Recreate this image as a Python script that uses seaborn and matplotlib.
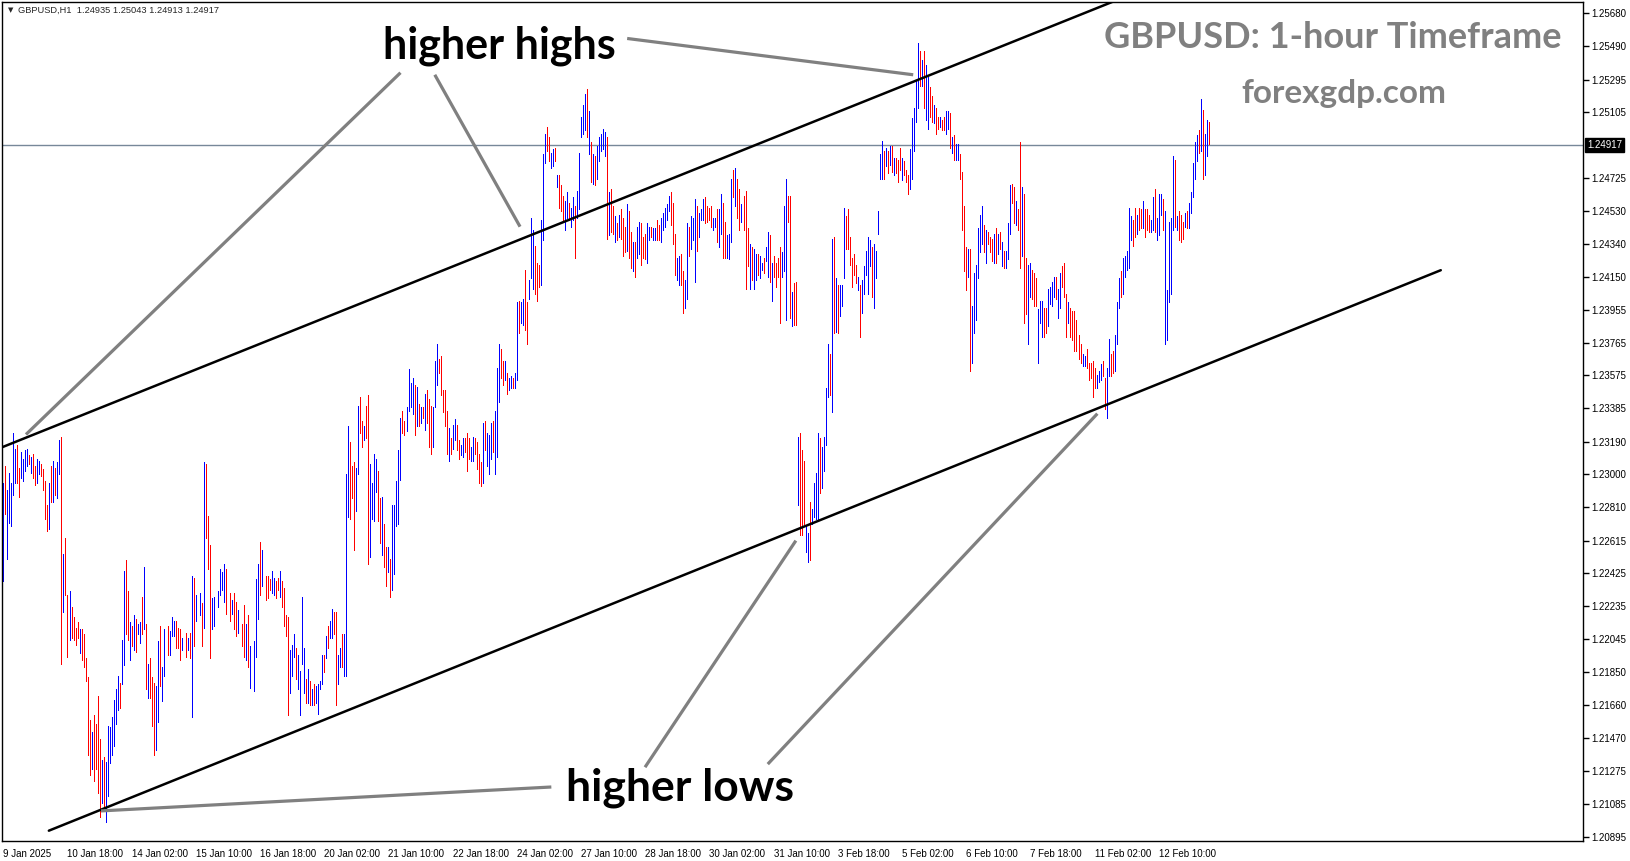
import numpy as np
import pandas as pd
import matplotlib
matplotlib.use("Agg")
import matplotlib.pyplot as plt
import matplotlib.transforms as mtransforms
import seaborn as sns

# GBPUSD H1 bars, prices in pips (1/10000); None = bar not read
high_pips = [
    12295,12305,12291,12301,12295,12324,12315,12317,12304,12313, 12309,12314,12315,12311,12310,12312,12305,12309,12308,12306,
    12303,12296,12282,12295,12305,12308,12304,12307,12320,12322, 12254,12263,12230,12232,12223,12217,12211,12214,12210,12210,
    12207,12193,12182,12157,12150,12160,12155,12171,12146,12134, 12136,12133,12154,12153,12159,12169,12175,12183,12179,12204,
    12244,12250,12232,12214,12212,12218,12216,12213,12214,12229, 12246,12213,12190,12193,12182,12179,12177,12203,12212,12188,
    12210,None,12212,12209,12217,12215,12215,12211,12210,12205,None,12208,
    12205,12208,12241,12240,12230,None,12231,12225,12307,12306,12276,
    12259,12228,12229,None,12232,12245,12243,12248,12245,None,12231,12227,
    12231,12226,12221,None,12213,12224,12213,12218,12200,None,12203,12239,
    12248,12261,12256,None,12241,12241,12239,12244,12240,12238,12240,
    12244,12238,12234,12218,12217,12198,12201,12207,12199,
    12195,12186,12229,12199,12181,12187,12180,12175,12178,12177, 12178,12180,12195,12195,12206,12212,12215,12222,12220,12220,
    12195,12199,12207,12207,12300,12328,12319,12305,12307,12304, 12340,12345,12331,12328,12340,12346,12306,12295,12312,12309,
    12302,12286,12287,12271,12258,12258,12251,12282,12282,12296, 12314,12333,12337,12331,12339,12361,12353,12356,12352,12351,
    12341,12339,12339,12347,12349,12344,12340,12339,12366,12376, 12367,12369,12349,12349,12337,12327,12321,12329,12332,12329,
    12320,12317,12321,12321,12324,12321,12316,12322,12321,12319, 12312,12307,12330,12331,12324,12323,12330,12331,12337,12362,
    12376,12373,12366,12366,12359,12356,12357,12356,12359,12400, 12401,12400,12402,12419,12400,12413,12449,12442,12433,12423,
    12422,12448,12486,12498,12502,12496,12487,12489,12490,12474, 12474,12468,12462,12459,12464,12458,12455,12461,12456,12465,
    12487,12508,12515,12521,12524,12511,12493,12486,12485,
    12491,12496,12498,12501,12499,12496,12464,12466,12456,12450, 12446,12451,12454,12449,12444,12457,12453,12441,12435,12435,
    12444,12447,12446,12438,12440,12446,12444,12444,12443,12443, 12448,12445,12449,12452,12455,12457,12462,12464,12458,12440,
    12426,12427,12428,12418,12413,12446,12444,12450,12449,12460, 12456,12452,12454,12460,12461,12456,12455,12456,12449,12449,
    12454,12454,12463,12458,12447,12439,12440,12472,12477,12478, 12472,12466,12457,12462,12465,12443,12434,12432,12431,12428,
    12428,12427,12423,12426,12432,12441,12439,12423,12427,12423, 12426,12432,12429,12456,12472,12462,12462,12406,12411,12412,
    12322,12324,12314,12308,12270,12266,12284,12280,12295,12301, 12324,12321,12316,12322,12350,12376,12370,12437,12438,12414,
    12410,12410,12410,12455,12450,12454,12438,12426,12428,12422, 12415,12410,12413,12421,12430,12438,12436,12432,12434,12430,
    12453,12486,12494,12488,12490,12488,12491,12491,12484,12484,
    12483,
    12490,12484,12482,12477,12474,12489,12507,12513,12529,12551, 12546,12541,12546,12538,12531,12525,12520,12515,12513,12508,
    12508,12506,12508,12511,12511,12510,12496,12497,12492,12492, 12486,12476,12456,12432,12431,12431,12398,12417,12422,12443,
    12451,12456,12445,12442,12441,12438,12437,12440,12443,12440, 12441,12435,12430,12430,12446,12468,12469,12467,12459,12454,
    12493,12467,12463,12426,12422,12423,12419,12417,12414,12396, 12401,12401,12397,12397,12408,12409,12412,12415,12415,12408,
    12417,12421,12423,12405,12400,12397,12395,12395,12390,12381, 12376,12370,12369,12373,12365,12365,12366,12362,12358,12360,
    12364,12366,12356,12362,12379,12370,12372,12381,12400,12414, 12418,12426,12427,12430,12455,12450,12448,12455,12451,12455,
    12454,12459,12454,12454,12451,12448,12461,12466,12449,12463, 12463,12460,12453,12407,12447,12449,12485,12483,12450,12453,
    12451,12447,12452,12453,12458,12464,12481,12493,12497,12500, 12518,12512,12498,12506,12505,
]
low_pips = [
    12238,12277,12251,12272,12270,12288,12295,12295,12287,12298, 12296,12302,12305,12306,12301,12298,12294,12295,12300,12299,
    12291,12274,12267,12268,12284,12284,12288,12286,12300,12190, 12220,12230,12194,12204,12205,12204,12201,12205,12196,12192,
    12188,12180,12137,12125,12129,12122,12129,12115,12101,12109, 12106,12098,12113,12132,12137,12142,12155,12163,12164,12178,
    12189,12207,12204,12192,12200,12198,12197,12207,12202,12207, 12210,12175,12170,12170,12154,12137,12140,12156,12177,12168,
    12183,None,12195,12195,12206,12206,12199,12199,12192,12198,None,12194,
    12198,12193,12159,12200,12215,None,12218,12200,12211,12263,12245,
    12193,12210,12212,None,12223,12230,12233,12226,12219,None,12215,12219,
    12210,12206,12208,None,12200,12194,12192,12188,12176,None,12174,12194,
    12216,12230,12235,None,12227,12228,12233,12231,12230,12228,12233,
    12229,12223,12212,12206,12160,12173,12183,12194,12181,
    12175,12160,12190,12173,12167,12167,12166,12166,12166,12167, 12161,12175,12178,12185,12193,12199,12205,12205,12207,12166,
    12178,12188,12188,12183,12183,12275,12274,12286,12256,12279, 12300,12324,12316,12320,12321,12248,12252,12274,12273,12290,
    12273,12260,12253,12246,12235,12243,12229,12233,12242,12270, 12271,12297,12324,12323,12325,12337,12339,12335,12323,12328,
    12328,12330,12333,12326,12330,12316,12312,12316,12339,12352, 12359,12346,12336,12328,12312,12308,12312,12315,12320,12314,
    12309,12311,12310,12313,12302,12309,12308,12308,12312,12303, 12295,12293,12295,12314,12305,12300,12309,12313,12300,12310,
    12342,12356,12352,12355,12347,12349,12350,12350,12350,12355, 12382,12388,12387,12384,12376,12402,12414,12408,12405,12401,
    12409,12410,12436,12481,12488,12482,12478,12479,12482,12467, 12455,12453,12447,12442,12449,12448,12444,12448,12426,12449,
    12454,12496,12498,12500,12496,12486,12470,12469,12468,
    12472,12482,12488,12489,12485,12437,12439,12441,12440,12435, 12436,12438,12437,12427,12429,12430,12426,12420,12418,12415,
    12426,12428,12422,12426,12425,12423,12436,12438,12436,12436, 12436,12436,12435,12442,12444,12448,12453,12445,12434,12416,
    12413,12410,12410,12394,12397,12402,12427,12431,12436,12412, 12430,12438,12448,12448,12446,12447,12448,12444,12442,12444,
    12435,12432,12440,12426,12426,12426,12425,12435,12461,12456, 12449,12442,12447,12442,12408,12421,12408,12413,12408,12413,
    12416,12414,12419,12417,12424,12415,12412,12401,12415,12409, 12415,12388,12415,12418,12390,12447,12391,12386,12387,12387,
    12282,12265,12265,12271,12255,12249,12250,12271,12275,12274, 12274,12289,12292,12302,12317,12345,12346,12336,12382,12383,
    12382,12392,12398,12414,12431,12431,12422,12409,12416,12411, 12407,12380,12394,12405,12416,12405,12421,12403,12397,12414,
    12440,12472,12472,12472,12479,12475,12480,12476,12474,12475,
    12470,
    12477,12471,12474,12470,12463,12466,12472,12488,12505,12513, 12526,12526,12513,12506,12501,12508,12505,12504,12498,12501,
    12502,12500,12500,12498,12501,12490,12487,12483,12483,12483, 12472,12442,12418,12407,12415,12360,12365,12382,12390,12414,
    12429,12434,12429,12423,12434,12429,12424,12423,12423,12428, 12431,12421,12420,12420,12425,12440,12458,12446,12445,12442,
    12420,12427,12388,12393,12376,12403,12402,12398,12398,12365, 12388,12380,12380,12382,12386,12399,12398,12403,12402,12391,
    12397,12409,12403,12380,12388,12380,12378,12372,12372,12367, 12365,12363,12363,12362,12355,12356,12345,12350,12350,12354,
    12355,12357,12338,12333,12357,12357,12359,12360,12376,12397, 12403,12405,12415,12419,12420,12436,12433,12438,12440,12442,
    12443,12443,12438,12442,12441,12441,12442,12441,12436,12439, 12451,12442,12376,12378,12400,12405,12442,12444,12442,12436,
    12435,12437,12444,12443,12443,12452,12461,12472,12482,12487, 12488,12472,12474,12485,12492,
]
# B = bullish bar (blue), R = bearish bar (red), - = not read
bar_dirs = (
    "BRBBBBBRRBBBBRBRRBBRRRRBRBRBBR" "BRRBRRRRBRRRRRBRRRRBRBBBBBBBRB" "BRRBRBRBBRBRBRRRBBRB"
    "B-RBBBRRRB-R" "BRBRB-BRBRR" "RBB-BBBBR-RB" "RRB-RRBRB-BB" "BRB-RRRBBRR" "BRRRRBBBR"
    "BBBBRBRBRBBBBRBRBBRRBBRBBBRRRB" "BRRBRRBBBBRRBRRBRBBBBBRRBBBBRB" "RBRBRRRBBBRRRRRBRBBRRBBRRRBBRR"
    "RRBRBBBRBBBRRBRBBRBBRBBRRBBBRR" "RBBBRRBBRBRRRBBRBBRBBBBBRBRBR"
    "BBBBBRBRRBRBRRRBRRBRBBRRRBBRBB" "RRBBBBBRRRBBRRBBRBBBRBBBRRRRBB" "RBBRRBBBRBRRBRRRBRBBRBBRBBRBRR"
    "RRBBBRRBRRBRRRBBRBBBBRBBBBRBRB" "RBBBRRRRRRBRBBBBBRBBBBBRBRBRBR"
    "R"
    "RBRRRBBBBBRBRBBRRBRRBRRBBRBRBB" "RRRRBRBBBBBBRBRRRBRBRBRBBBRRBR" "RBRRBBRRRBBBRRBBBBRBBRRRBRRRRR"
    "RBBRRRRRBBBRRBBRRBBBRBBBBBRRBR" "RBRRRBBRBBBRBBBBBRBRRRBRBBBBBR" "BRBBR"
)

# axis text
price_ticks = [1.25680, 1.25490, 1.25295, 1.25105, 1.24725, 1.24530, 1.24340, 1.24150,
               1.23955, 1.23765, 1.23575, 1.23385, 1.23190, 1.23000, 1.22810, 1.22615,
               1.22425, 1.22235, 1.22045, 1.21850, 1.21660, 1.21470, 1.21275, 1.21085, 1.20895]
time_labels = ["9 Jan 2025", "10 Jan 18:00", "14 Jan 02:00", "15 Jan 10:00", "16 Jan 18:00",
               "20 Jan 02:00", "21 Jan 10:00", "22 Jan 18:00", "24 Jan 02:00", "27 Jan 10:00",
               "28 Jan 18:00", "30 Jan 02:00", "31 Jan 10:00", "3 Feb 18:00", "5 Feb 02:00",
               "6 Feb 10:00", "7 Feb 18:00", "11 Feb 02:00", "12 Feb 10:00"]
bars_per_label = 32
last_price = 1.24917
header = "GBPUSD,H1  1.24935 1.25043 1.24913 1.24917"

# channel lines and pointer lines, (bar, price) anchors
upper_channel = [(-1.65, 1.23153), (560, 1.25780)]
lower_channel = [(22.7, 1.20929), (716.6, 1.24187)]
pointers = [
    [(198.0, 1.25335), (11.3, 1.23232)],
    [(215.1, 1.25323), (257.6, 1.24440)],
    [(311.0, 1.25534), (453.6, 1.25323)],
    [(273.2, 1.21183), (48.7, 1.21044)],
    [(319.9, 1.21298), (395.1, 1.22615)],
    [(381.1, 1.21316), (545.4, 1.23353)],
]

bars = pd.DataFrame({
    "bar": np.arange(len(high_pips)),
    "high": np.array(high_pips, dtype=float) / 10000,
    "low": np.array(low_pips, dtype=float) / 10000,
    "dir": list(bar_dirs),
}).dropna()
long_df = bars.melt(id_vars=["bar", "dir"], value_vars=["high", "low"], value_name="price")

sns.set_style("white")
plt.rcParams["font.family"] = ["Liberation Sans", "DejaVu Sans"]

W, H = 1631, 861
fig = plt.figure(figsize=(W / 100, H / 100), dpi=100)
left, right, top, bottom = 2, 1583, 2, 840.5
ax = fig.add_axes([left / W, 1 - bottom / H, (right - left) / W, (bottom - top) / H])

sns.lineplot(data=long_df, x="bar", y="price", units="bar", estimator=None, errorbar=None,
             hue="dir", palette={"B": "#0000ff", "R": "#ff0000"}, sort=False,
             linewidth=0.72, legend=False, ax=ax, antialiased=False)

ax.set_xlim(-0.65, 787.5)
ax.set_ylim(1.20872, 1.25746)

ax.axhline(last_price, color="#778899", lw=1, zorder=1)

for (x0, y0), (x1, y1) in [upper_channel, lower_channel]:
    ax.plot([x0, x1], [y0, y1], color="black", lw=1.8, zorder=4)
for (x0, y0), (x1, y1) in pointers:
    ax.plot([x0, x1], [y0, y1], color="#808080", lw=2.3, zorder=4, solid_capstyle="butt")

# axes styling
for sp in ax.spines.values():
    sp.set_color("black")
    sp.set_linewidth(1)
ax.set_xlabel("")
ax.set_ylabel("")
ax.yaxis.tick_right()
ax.set_yticks(price_ticks)
ax.set_yticklabels([f"{p:.5f}" for p in price_ticks])
ax.set_xticks(np.arange(len(time_labels)) * bars_per_label)
ax.set_xticklabels(time_labels, ha="left")
ax.tick_params(axis="y", direction="out", length=4, width=1, pad=2, labelsize=7, colors="black")
ax.tick_params(axis="x", direction="out", length=4, width=1, pad=2, labelsize=7, colors="black")

trans = mtransforms.blended_transform_factory(ax.transAxes, ax.transData)
ax.text(1.0025, last_price, f"{last_price:.5f}", transform=trans, color="white", fontsize=7,
        va="center", ha="left", zorder=6,
        bbox=dict(boxstyle="square,pad=0.2", fc="black", ec="black"))

# texts
fig.text(8 / W, 1 - 10 / H, "\u25bc", fontsize=5, family="DejaVu Sans", va="center", ha="left")
fig.text(18 / W, 1 - 10 / H, header, fontsize=6.7, va="center", ha="left")
fig.text(1333 / W, 1 - 38 / H, "GBPUSD: 1-hour Timeframe", fontsize=26, fontweight="bold",
         family="Lato", color="#808080", va="center", ha="center")
fig.text(1344 / W, 1 - 94 / H, "forexgdp.com", fontsize=24, fontweight="bold",
         family="Lato", color="#808080", va="center", ha="center")
fig.text(499 / W, 1 - 46 / H, "higher highs", fontsize=31, fontweight="bold",
         family="Lato", color="black", va="center", ha="center")
fig.text(680 / W, 1 - 788 / H, "higher lows", fontsize=32, fontweight="bold",
         family="Lato", color="black", va="center", ha="center")

fig.savefig("out.png", dpi=100, facecolor="white")
